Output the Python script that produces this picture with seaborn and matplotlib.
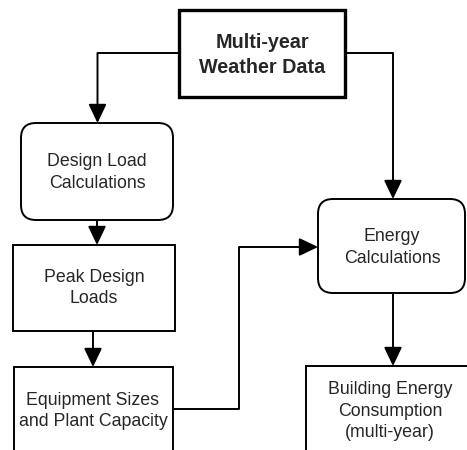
import matplotlib
matplotlib.use("Agg")
import matplotlib.pyplot as plt
import seaborn as sns
from matplotlib.patches import FancyBboxPatch

sns.set_style("white")
plt.rcParams['font.family'] = ['Liberation Sans', 'DejaVu Sans']

# node labels and which ones are rounded / emphasised
labels = [
    "Multi-year\nWeather Data",
    "Design Load\nCalculations",
    "Peak Design\nLoads",
    "Equipment Sizes\nand Plant Capacity",
    "Energy\nCalculations",
    "Building Energy\nConsumption\n(multi-year)",
]
rounded = [False, True, False, False, True, False]
bold = [True, False, False, False, False, False]

# layout in pixel coordinates (x0, y0, x1, y1), y downwards
boxes = [
    (179, 10, 345, 97),
    (21, 123, 173, 220),
    (13, 245, 175, 331),
    (14, 367, 173, 470),
    (318, 199, 465, 293),
    (306, 366, 480, 470),
]
text_pos = [(262, 55), (97, 172.5), (94, 288), (93, 411), (392, 247.5), (390, 411)]

# connectors as polylines, last point gets the arrow head
edges = [
    [(179, 53), (97.5, 53), (97.5, 123)],
    [(345, 53), (393, 53), (393, 199)],
    [(97, 220), (97, 245)],
    [(93, 331), (93, 367)],
    [(173, 409), (239, 409), (239, 247), (318, 247)],
    [(393, 293), (393, 366)],
]

fig = plt.figure(figsize=(4.67, 4.5), dpi=100)
ax = fig.add_axes([0, 0, 1, 1])
ax.set_xlim(0, 467)
ax.set_ylim(450, 0)
ax.axis("off")

for lab, (x0, y0, x1, y1), rnd, bd, (tx, ty) in zip(labels, boxes, rounded, bold, text_pos):
    style = "round,pad=0,rounding_size=15" if rnd else "square,pad=0"
    ax.add_patch(FancyBboxPatch((x0, y0), x1 - x0, y1 - y0, boxstyle=style,
                                fc="white", ec="black", lw=2.4 if bd else 1.4, zorder=2))
    ax.text(tx, ty, lab, ha="center", va="center", fontsize=14.2 if bd else 12.8,
            fontweight="bold" if bd else "normal",
            linespacing=1.42 if bd else 1.38, zorder=3)

for pts in edges:
    xs = [p[0] for p in pts]
    ys = [p[1] for p in pts]
    ax.plot(xs[:-1], ys[:-1], color="black", lw=1.4, solid_capstyle="butt", zorder=1)
    ax.annotate("", xy=pts[-1], xytext=pts[-2],
                arrowprops=dict(arrowstyle="-|>,head_length=1.15,head_width=0.55",
                                color="black", lw=1.4, shrinkA=0, shrinkB=0),
                zorder=1)

fig.savefig("out.png", dpi=100)
